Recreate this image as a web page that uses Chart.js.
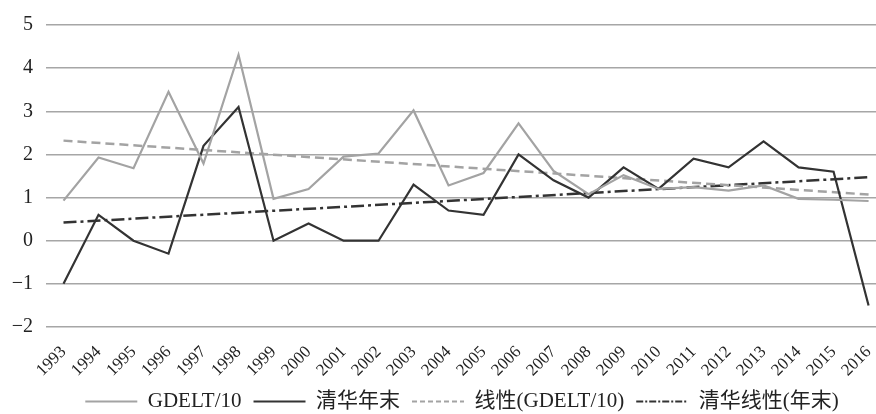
<!DOCTYPE html>
<html>
<head>
<meta charset="utf-8">
<script src="https://cdn.jsdelivr.net/npm/chart.js@4"></script>
<style>
  html, body { margin: 0; padding: 0; background: #fff; overflow: hidden; }
  #wrap { position: absolute; left: 0; top: 0; width: 898px; height: 414px; }
</style>
</head>
<body>
<div id="wrap"><canvas id="lineChart" width="898" height="414"></canvas></div>
<script>
// ===== DATA =====
const years = ['1993','1994','1995','1996','1997','1998','1999','2000','2001','2002','2003','2004',
  '2005','2006','2007','2008','2009','2010','2011','2012','2013','2014','2015','2016'];
const gdelt = [0.93, 1.93, 1.68, 3.45, 1.79, 4.31, 0.97, 1.2, 1.95, 2.02, 3.02, 1.28,
  1.57, 2.72, 1.62, 1.08, 1.52, 1.2, 1.24, 1.16, 1.28, 0.97, 0.95, 0.92];
const tsinghua = [-1, 0.6, 0, -0.3, 2.2, 3.1, 0, 0.4, 0, 0, 1.3, 0.7,
  0.6, 2.0, 1.4, 1.0, 1.7, 1.2, 1.9, 1.7, 2.3, 1.7, 1.6, -1.5];
// trend line ends (first year, last year)
const gdeltTrend = [2.32, 1.07];
const tsinghuaTrend = [0.42, 1.47];
const yTicks = [-2, -1, 0, 1, 2, 3, 4, 5];

// put the two trend ends on first/last year, the gap in between gets spanned
function trendRow(ends) {
  return years.map((y, i) => i === 0 ? ends[0] : (i === years.length - 1 ? ends[1] : null));
}

const serif = '"Liberation Serif", "Times New Roman", "Noto Sans CJK SC", serif';

// legend sits a bit right of centre in the original
const legendShift = {
  id: 'legendShift',
  beforeDraw: (chart) => {
    const lg = chart.legend;
    if (lg && !lg._shifted) {
      const orig = lg.draw.bind(lg);
      lg.draw = function (area) {
        chart.ctx.save();
        chart.ctx.translate(13, 0);
        orig(area);
        chart.ctx.restore();
      };
      lg._shifted = true;
    }
  }
};

const ctx = document.getElementById('lineChart').getContext('2d');
const lineChart = new Chart(ctx, {
  type: 'line',
  data: {
    labels: years,
    datasets: [
      {
        label: 'GDELT/10',
        data: gdelt,
        borderColor: '#a3a3a3',
        borderWidth: 2.2,
        pointRadius: 0,
        tension: 0
      },
      {
        label: '清华年末',
        data: tsinghua,
        borderColor: '#333333',
        borderWidth: 2.2,
        pointRadius: 0,
        tension: 0
      },
      {
        label: '线性(GDELT/10)',
        data: trendRow(gdeltTrend),
        borderColor: '#a3a3a3',
        borderWidth: 2.5,
        borderDash: [9, 5],
        spanGaps: true,
        pointRadius: 0
      },
      {
        label: '清华线性(年末)',
        data: trendRow(tsinghuaTrend),
        borderColor: '#333333',
        borderWidth: 2.5,
        borderDash: [13, 4, 3, 4],
        spanGaps: true,
        pointRadius: 0
      }
    ]
  },
  plugins: [legendShift],
  options: {
    responsive: false,
    animation: false,
    layout: { padding: { top: 9, right: 0, left: 0, bottom: -8 } },
    plugins: {
      tooltip: { enabled: false },
      legend: {
        position: 'bottom',
        labels: {
          usePointStyle: true,
          pointStyleWidth: 52,
          boxHeight: 10,
          padding: 12,
          color: '#222',
          font: { family: serif, size: 21 },
          // line samples with the dataset's own dash
          generateLabels: (chart) => chart.data.datasets.map((ds, i) => ({
            text: ds.label,
            datasetIndex: i,
            pointStyle: 'line',
            strokeStyle: ds.borderColor,
            fillStyle: ds.borderColor,
            fontColor: '#222',
            lineWidth: 2,
            lineDash: ds.borderDash ? ds.borderDash.map(d => Math.max(2, Math.round(d * 0.5))) : [],
            hidden: false
          }))
        }
      }
    },
    scales: {
      y: {
        min: -2,
        max: 5,
        afterFit: (s) => { s.width = 46; },
        afterBuildTicks: (s) => { s.ticks = yTicks.map(v => ({ value: v })); },
        border: { display: false },
        grid: { color: '#a6a6a6', lineWidth: 1.4, drawTicks: false },
        ticks: {
          padding: 13,
          color: '#222',
          font: { family: serif, size: 20 },
          callback: (v) => String(v).replace('-', '\u2212')
        }
      },
      x: {
        offset: true,
        afterFit: (s) => { s.height = 52; },
        border: { display: false },
        grid: { display: false, drawTicks: false },
        ticks: {
          autoSkip: false,
          minRotation: 45,
          maxRotation: 45,
          padding: 15,
          color: '#222',
          font: { family: serif, size: 17 }
        }
      }
    }
  }
});
</script>
</body>
</html>
